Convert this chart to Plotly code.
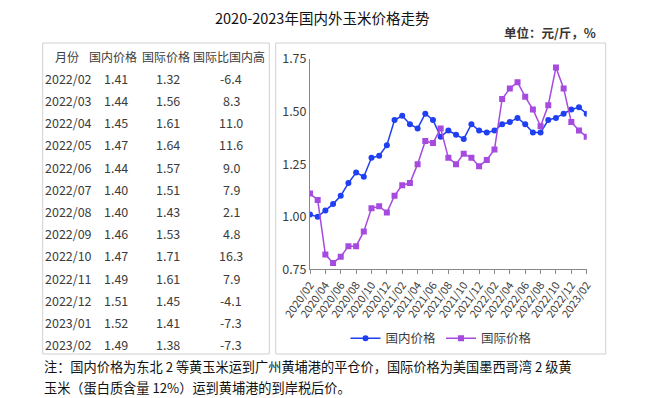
import plotly.graph_objects as go

W, H = 646, 398
OFF = 8  # page body margin offset compensation

months = [f"{y}/{m:02d}" for y, m in
          [(2020, m) for m in range(2, 13)] + [(2021, m) for m in range(1, 13)] +
          [(2022, m) for m in range(1, 13)] + [(2023, m) for m in range(1, 3)]]

domestic = [1.01, 1.00, 1.03, 1.06, 1.10, 1.16, 1.21, 1.19, 1.28, 1.29, 1.34, 1.46,
            1.48, 1.44, 1.42, 1.49, 1.46, 1.38, 1.41, 1.39, 1.37, 1.44, 1.41, 1.40,
            1.41, 1.44, 1.45, 1.47, 1.44, 1.40, 1.40, 1.46, 1.47, 1.49, 1.51, 1.52, 1.49]
international = [1.11, 1.08, 0.82, 0.78, 0.81, 0.86, 0.86, 0.93, 1.04, 1.05, 1.02, 1.10,
                 1.15, 1.16, 1.25, 1.36, 1.35, 1.42, 1.28, 1.25, 1.30, 1.28, 1.24, 1.27,
                 1.32, 1.56, 1.61, 1.64, 1.57, 1.51, 1.43, 1.53, 1.71, 1.61, 1.45, 1.41, 1.38]

table_header = ["月份", "国内价格", "国际价格", "国际比国内高"]
table_months = ["2022/02", "2022/03", "2022/04", "2022/05", "2022/06", "2022/07", "2022/08",
                "2022/09", "2022/10", "2022/11", "2022/12", "2023/01", "2023/02"]
table_domestic = [1.41, 1.44, 1.45, 1.47, 1.44, 1.40, 1.40, 1.46, 1.47, 1.49, 1.51, 1.52, 1.49]
table_international = [1.32, 1.56, 1.61, 1.64, 1.57, 1.51, 1.43, 1.53, 1.71, 1.61, 1.45, 1.41, 1.38]
table_diff = [-6.4, 8.3, 11.0, 11.6, 9.0, 7.9, 2.1, 4.8, 16.3, 7.9, -4.1, -7.3, -7.3]

tick_labels = months[::2]

title_text = "2020-2023年国内外玉米价格走势"
unit_text = "单位：元/斤，%"
note_line1 = "注：国内价格为东北 2 等黄玉米运到广州黄埔港的平仓价，国际价格为美国墨西哥湾 2 级黄"
note_line2 = "玉米（蛋白质含量 12%）运到黄埔港的到岸税后价。"

FONT = "Noto Sans CJK SC"
BLUE = "#1f3ff2"
PURPLE = "#a64ae0"
TXT = "#3c3c3c"


def px(x):
    return (x - OFF) / W


def py(y):
    return 1 - (y - OFF) / H


def label(text, x, y, size, color=TXT, xanchor="center", family=FONT, pad=1):
    return dict(text=text, x=px(x), y=py(y), xref="paper", yref="paper",
                xanchor=xanchor, yanchor="middle", showarrow=False, borderpad=pad,
                font=dict(family=family, size=size, color=color))


fig = go.Figure()
fig.add_trace(go.Scatter(x=months, y=domestic, name="国内价格", mode="lines+markers",
                         line=dict(color=BLUE, width=1.5),
                         marker=dict(symbol="circle", size=6, color=BLUE)))
fig.add_trace(go.Scatter(x=months, y=international, name="国际价格", mode="lines+markers",
                         line=dict(color=PURPLE, width=1.5),
                         marker=dict(symbol="square", size=6, color=PURPLE)))

shapes = [
    dict(type="rect", xref="paper", yref="paper", x0=px(42.7), x1=px(269.3), y0=py(354), y1=py(43),
         line=dict(color="#d0d0d0", width=1), fillcolor="rgba(0,0,0,0)", layer="below"),
    dict(type="rect", xref="paper", yref="paper", x0=px(275.7), x1=px(605.7), y0=py(354), y1=py(43),
         line=dict(color="#d0d0d0", width=1), fillcolor="rgba(0,0,0,0)", layer="below"),
]

ann = []
ann.append(label(title_text, 322, 17.5, 14.5, color="#111", pad=0))
ann.append(label("<b>" + unit_text + "</b>", 598, 33, 12.5, color="#3a3530", xanchor="right"))

col_x = [68, 116, 168, 231]
head_x = [67, 113, 166, 229]
for hx, h in zip(head_x, table_header):
    ann.append(label(h, hx, 56.7, 12))
for i in range(len(table_months)):
    yy = 78.3 + 22.2 * i
    vals = [table_months[i], f"{table_domestic[i]:.2f}", f"{table_international[i]:.2f}",
            f"{table_diff[i]:.1f}"]
    for cx, v in zip(col_x, vals):
        ann.append(label(v, cx, yy, 12.5))

ann.append(label(note_line1, 42, 366.5, 13.2, color="#111", xanchor="left"))
ann.append(label(note_line2, 42, 387, 13.2, color="#111", xanchor="left"))

fig.update_layout(
    width=W, height=H,
    margin=dict(l=0, r=0, t=0, b=0, autoexpand=False),
    paper_bgcolor="white", plot_bgcolor="white",
    font=dict(family=FONT, color=TXT),
    shapes=shapes, annotations=ann,
    showlegend=True,
    legend=dict(orientation="h", x=px(441), y=py(338.5), xanchor="center", yanchor="middle",
                font=dict(family=FONT, size=12.5, color=TXT), itemwidth=30,
                bgcolor="rgba(0,0,0,0)", tracegroupgap=0),
    xaxis=dict(domain=[px(310), px(586.7)], range=[0, 36], type="category", automargin=False,
               tickmode="array", tickvals=tick_labels, ticktext=tick_labels,
               tickangle=-55, tickfont=dict(family=FONT, size=11, color=TXT),
               showline=True, linecolor="#888", linewidth=1, ticks="outside",
               ticklen=4, tickcolor="#888", showgrid=False, zeroline=False),
    yaxis=dict(domain=[py(269.3), py(59)], range=[0.75, 1.75], tickvals=[0.75, 1.0, 1.25, 1.5, 1.75],
               automargin=False,
               tickformat=".2f", tickfont=dict(family=FONT, size=12.5, color=TXT),
               showline=True, linecolor="#888", linewidth=1, ticks="", showgrid=False,
               zeroline=False),
)

fig.write_html("out.html")
